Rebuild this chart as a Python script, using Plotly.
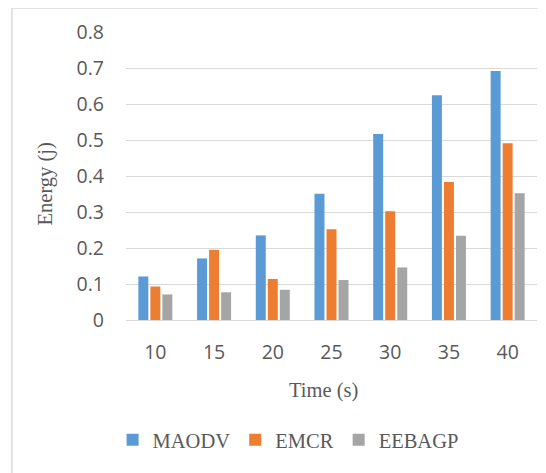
import plotly.graph_objects as go

categories = ["10", "15", "20", "25", "30", "35", "40"]
maodv = [0.121, 0.171, 0.235, 0.351, 0.517, 0.624, 0.692]
emcr = [0.093, 0.195, 0.114, 0.252, 0.302, 0.383, 0.491]
eebagp = [0.071, 0.077, 0.084, 0.111, 0.146, 0.234, 0.352]
y_ticks = [0, 0.1, 0.2, 0.3, 0.4, 0.5, 0.6, 0.7, 0.8]
y_ticktext = ["0", "0.1", "0.2", "0.3", "0.4", "0.5", "0.6", "0.7", "0.8"]

series = [("MAODV", maodv, "#5B9BD5"), ("EMCR", emcr, "#ED7D31"), ("EEBAGP", eebagp, "#A5A5A5")]

fig = go.Figure()
for name, vals, color in series:
    fig.add_trace(go.Bar(x=categories, y=vals, name=name, marker=dict(color=color, line=dict(width=0))))

# page body has an 8px default margin, so the figure starts at (8, 8)
OFF = 8
W, H = 546 - OFF, 473 - OFF
L, R, T, B = 126.4 - OFF, 9.2, 32 - OFF, 153
pw, ph = W - L - R, H - T - B

def px(x):
    return (x - OFF - L) / pw

def py(y):
    return (H - B - (y - OFF)) / ph

serif = "Liberation Serif, Times New Roman, serif"
sans = "Open Sans, DejaVu Sans, sans-serif"
gray = "#595959"

fig.update_layout(
    width=W, height=H,
    margin=dict(l=L, r=R, t=T, b=B),
    paper_bgcolor="white", plot_bgcolor="white",
    barmode="group", bargap=0.386, bargroupgap=0.17,
    showlegend=True,
    legend=dict(orientation="h", x=px(113), xanchor="left", y=py(440), yanchor="middle",
                font=dict(family=serif, size=20.5, color=gray), traceorder="normal",
                bgcolor="rgba(0,0,0,0)"),
    xaxis=dict(showgrid=False, showline=True, linecolor="#d9d9d9", linewidth=1, ticks="",
               tickfont=dict(family=sans, size=19.5, color=gray), ticklabelstandoff=15),
    yaxis=dict(range=[0, 0.8], tickvals=y_ticks, ticktext=y_ticktext, showgrid=True,
               gridcolor="#d9d9d9", gridwidth=1, zeroline=False, showline=False, ticks="",
               tickfont=dict(family=sans, size=19.5, color=gray), ticklabelstandoff=21),
    shapes=[dict(type="rect", xref="paper", yref="paper", x0=px(12.5), x1=px(600), y0=py(600), y1=py(8),
                 line=dict(color="#d9d9d9", width=1.5), fillcolor="rgba(0,0,0,0)", layer="below")],
    annotations=[
        dict(text="Time (s)", xref="paper", yref="paper", x=px(324), y=py(390), showarrow=False,
             xanchor="center", yanchor="middle", font=dict(family=serif, size=20.5, color=gray)),
        dict(text="Energy (j)", xref="paper", yref="paper", x=px(46), y=py(184), showarrow=False,
             textangle=-90, xanchor="center", yanchor="middle", font=dict(family=serif, size=20.5, color=gray)),
    ],
)

fig.write_html("out.html")
